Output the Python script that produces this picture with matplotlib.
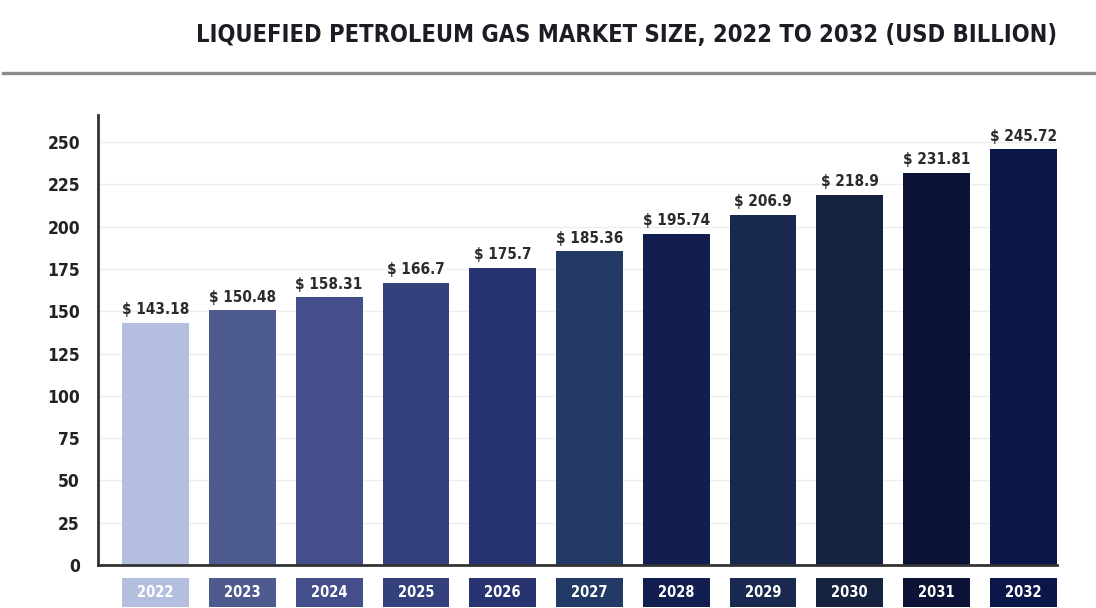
import numpy as np
import matplotlib
matplotlib.use('Agg')
from matplotlib import pylab as plt

# data
years  = ['2022', '2023', '2024', '2025', '2026', '2027',
          '2028', '2029', '2030', '2031', '2032']
values = [143.18, 150.48, 158.31, 166.7, 175.7, 185.36,
          195.74, 206.9, 218.9, 231.81, 245.72]
labels = ['$ 143.18', '$ 150.48', '$ 158.31', '$ 166.7', '$ 175.7', '$ 185.36',
          '$ 195.74', '$ 206.9', '$ 218.9', '$ 231.81', '$ 245.72']
colors = ['#b4bfe0', '#4e5b8e', '#434e8a', '#35417c', '#283372', '#243a66',
          '#121d50', '#18284f', '#152240', '#0d1336', '#0b1649']
yticks = np.arange(0, 251, 25)

plt.rcParams['font.family']  = ['DejaVu Sans']
plt.rcParams['font.weight']  = 'bold'
plt.rcParams['font.stretch'] = 'condensed'

fig = plt.figure(figsize=(10.96, 6.08), dpi=100)
ax  = fig.add_axes([98/1096, 43/608, (1057-98)/1096, 450/608])

x = np.arange(len(years))
ax.bar(x, values, width=0.77, color=colors, zorder=2)

# value labels above the bars
for xi, v, lab in zip(x, values, labels):
    ax.annotate(lab, (xi, v), xytext=(0, 4), textcoords='offset points',
                ha='center', va='bottom', fontsize=11, color='#2b2b2b')

# coloured year boxes under the axis
ax.bar(x, -17, bottom=-7.7, width=0.77, color=colors, clip_on=False)
for xi, yr in zip(x, years):
    ax.text(xi, -16.2, yr, ha='center', va='center', fontsize=10.5,
            color='white', clip_on=False)

ax.set_xlim(-0.665, 10.39)
ax.set_ylim(0, 266)
ax.set_xticks([])
ax.set_yticks(yticks)
ax.tick_params(axis='y', length=0, pad=13, labelsize=12.5, labelcolor='#222222')
ax.yaxis.grid(True, color='#eeeeee', linewidth=1, zorder=0)
ax.set_axisbelow(True)

for s in ['top', 'right']:
    ax.spines[s].set_visible(False)
for s in ['left', 'bottom']:
    ax.spines[s].set_color('#333333')
    ax.spines[s].set_linewidth(2)

# title, sized to span the same width as in the reference
title = fig.text(0.572, 0.942,
                 'LIQUEFIED PETROLEUM GAS MARKET SIZE, 2022 TO 2032 (USD BILLION)',
                 ha='center', va='center', fontsize=19, color='#1c1c24')
renderer = fig.canvas.get_renderer()
w = title.get_window_extent(renderer).width
title.set_fontsize(19 * 858 / w)

# grey rule under the title
fig.add_artist(plt.Line2D([0.003, 1.0], [0.88, 0.88], color='#8a8a8a',
                          linewidth=2.4, transform=fig.transFigure))

plt.savefig('out.png', dpi=100)
